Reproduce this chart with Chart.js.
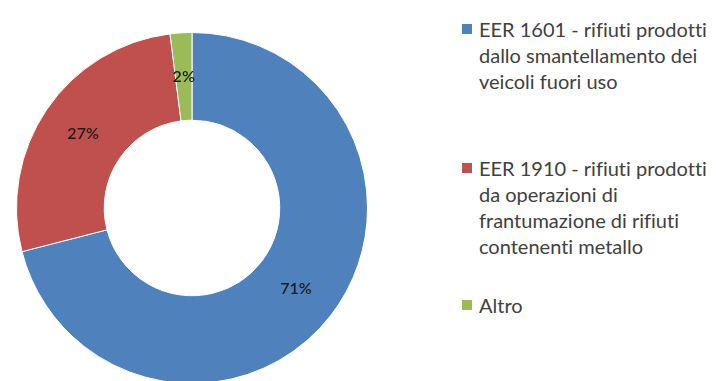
<!DOCTYPE html>
<html>
<head>
<meta charset="utf-8">
<script src="https://cdn.jsdelivr.net/npm/chart.js@4.4.1/dist/chart.umd.min.js"></script>
<style>
    html, body { margin: 0; padding: 0; background: #fff; }
    body { width: 716px; height: 381px; overflow: hidden; position: relative; font-family: Lato, "Open Sans", sans-serif; }
    #ring { position: absolute; left: 4px; top: 32px; width: 376px; height: 352px; }
    #legend { position: absolute; left: 462px; top: 0; width: 254px; color: #404040; font-size: 20px; line-height: 26px; font-variant-ligatures: none; }
    .item { position: absolute; left: 0; white-space: nowrap; }
    .box { position: absolute; left: 0; top: 8px; width: 10px; height: 10px; }
    .txt { position: absolute; left: 17px; top: 0; }
</style>
</head>
<body>
<div id="ring"><canvas id="waste-chart"></canvas></div>
<div id="legend"></div>
<script>
// quote per tipologia di rifiuto (valori in %)
var categories = [
    ['EER 1601 - rifiuti prodotti', 'dallo smantellamento dei', 'veicoli fuori uso'],
    ['EER 1910 - rifiuti prodotti', 'da operazioni di', 'frantumazione di rifiuti', 'contenenti metallo'],
    ['Altro']
];
var shares = [71, 27, 2];
var colors = ['#4F81BD', '#C0504D', '#9BBB59'];

var WasteChart = (function(){
    var legendTops = [16, 155, 292];

    var sliceLabels = {
        id: 'sliceLabels',
        afterDatasetsDraw: function (chart) {
            var ctx = chart.ctx;
            var meta = chart.getDatasetMeta(0);
            ctx.save();
            ctx.font = '600 16px Lato, sans-serif';
            ctx.fillStyle = '#1c1c1c';
            ctx.textAlign = 'center';
            ctx.textBaseline = 'middle';
            meta.data.forEach(function (arc, i) {
                var p = arc.tooltipPosition();
                ctx.fillText(shares[i] + '%', p.x, p.y);
            });
            ctx.restore();
        }
    };

    var drawChart = function () {
        new Chart('waste-chart', {
            type: 'doughnut',
            data: {
                labels: categories.map(function (c) { return c.join(' '); }),
                datasets: [{
                    data: shares,
                    backgroundColor: colors,
                    borderColor: '#ffffff',
                    borderWidth: 1
                }]
            },
            options: {
                responsive: true,
                maintainAspectRatio: false,
                animation: false,
                cutout: '50%',
                layout: { padding: 0 },
                plugins: {
                    legend: { display: false },
                    tooltip: { enabled: false }
                }
            },
            plugins: [sliceLabels]
        });
    };

    var drawLegend = function () {
        var box = document.getElementById('legend');
        categories.forEach(function (lines, i) {
            var item = document.createElement('div');
            item.className = 'item';
            item.style.top = legendTops[i] + 'px';
            item.innerHTML = '<span class="box" style="background:' + colors[i] + '"></span>' +
                '<div class="txt">' + lines.join('<br>') + '</div>';
            box.appendChild(item);
        });
    };

    drawChart();
    drawLegend();
    return {};
})();
</script>
</body>
</html>
